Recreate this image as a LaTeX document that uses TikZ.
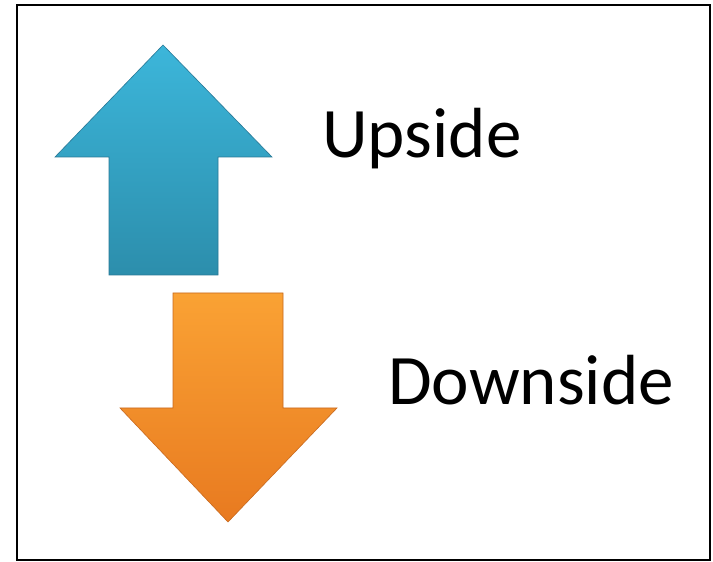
\documentclass[tikz,border=0pt]{standalone}
\usepackage{fontspec}
\setmainfont{Carlito}
\definecolor{uptop}{RGB}{60,182,218}
\definecolor{upbot}{RGB}{44,142,172}
\definecolor{upedge}{RGB}{40,120,150}
\definecolor{dntop}{RGB}{250,162,52}
\definecolor{dnbot}{RGB}{232,122,32}
\definecolor{dnedge}{RGB}{200,105,30}
\begin{document}
\begin{tikzpicture}[x=1pt,y=1pt,
  lbl/.style={anchor=base west,inner sep=0pt,font=\fontsize{71}{85}\selectfont},
  uparrow/.style={top color=uptop,bottom color=upbot,draw=upedge,line width=0.6pt,line join=miter},
  downarrow/.style={top color=dntop,bottom color=dnbot,draw=dnedge,line width=0.6pt,line join=miter}]
\useasboundingbox (0,0) rectangle (713,562);
\fill[white] (0,0) rectangle (713,562);
\draw[black,line width=1.3pt] (17,2) rectangle (710,557);
% up arrow
\path[uparrow] (163,517) -- (272,405) -- (218,405) -- (218,287) -- (109,287) -- (109,405) -- (55,405) -- cycle;
% down arrow
\path[downarrow] (173,269) -- (283,269) -- (283,154) -- (337,154) -- (228,40) -- (120,154) -- (173,154) -- cycle;
\node[lbl] (up) at (322,404) {Upside};
\node[lbl] (down) at (388,157) {Downside};
\end{tikzpicture}
\end{document}
